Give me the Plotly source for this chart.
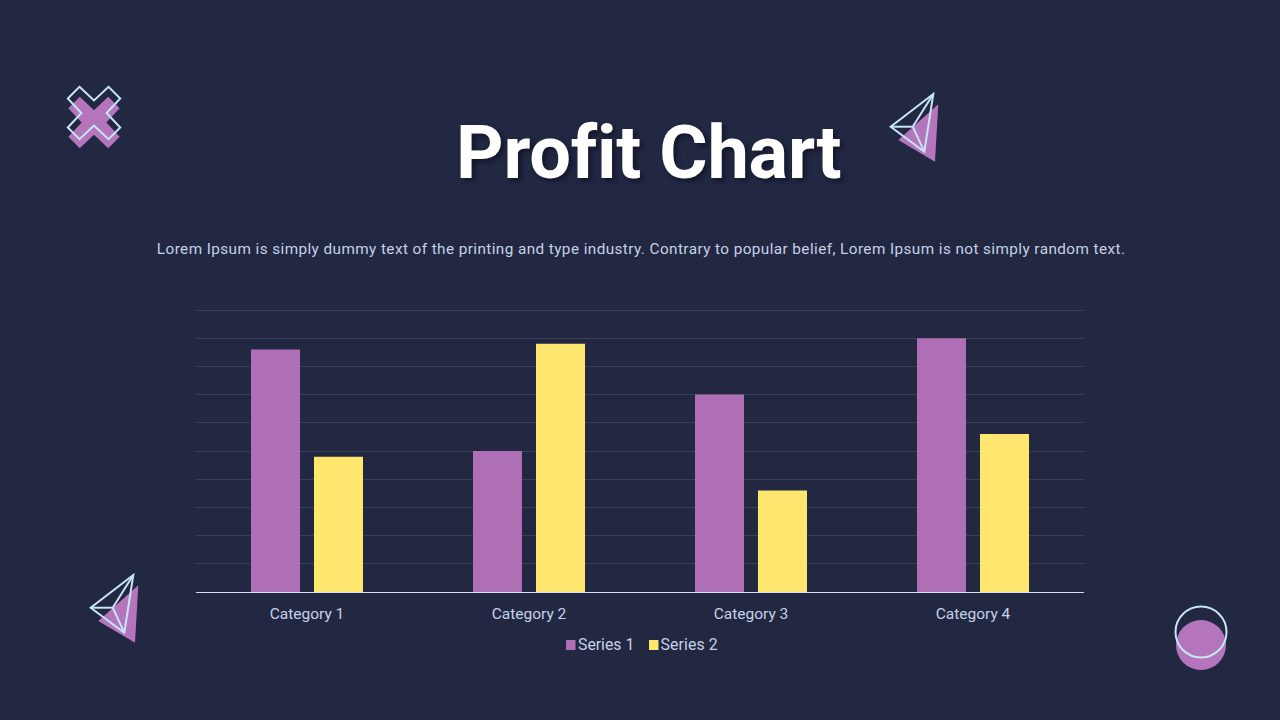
import plotly.graph_objects as go

CATEGORIES = ['Category 1', 'Category 2', 'Category 3', 'Category 4']
SERIES_1 = [4.3, 2.5, 3.5, 4.5]
SERIES_2 = [2.4, 4.4, 1.8, 2.8]

TITLE = 'Profit Chart'
SUBTITLE = ('Lorem Ipsum is simply dummy text of the printing and type industry. '
            'Contrary to popular belief, Lorem Ipsum is not simply random text.')

W, H = 1280, 720
BG = '#222742'
PURPLE = '#AE6FB4'
DECOR_PURPLE = '#B575BD'
YELLOW = '#FFE66E'
WIRE = '#C6E6F6'
TEXT = '#C5D2E6'
GRID = '#3A3F58'
FONT = 'Roboto'

# the page body margin and letter spacing cannot be set from the figure
# (any non zero spacing on the title also switches off the fi ligature)
PAGE_JS = """
document.body.style.margin = '0';
var st = document.createElement('style');
st.textContent = '.annotation[data-index="1"] text {letter-spacing: 0.15px;}'
  + ' .annotation[data-index="2"] text {letter-spacing: -0.25px;}'
  + ' .annotation[data-index="3"] text {letter-spacing: 0.42px;}';
document.head.appendChild(st);
"""


def px(x):
    return x / W


def py(y):
    return 1 - y / H


def path(points, close=True):
    parts = [f'{"M" if i == 0 else "L"}{px(x):.5f},{py(y):.5f}' for i, (x, y) in enumerate(points)]
    return ' '.join(parts) + (' Z' if close else '')


def paper_shape(**kw):
    return dict(xref='paper', yref='paper', layer='above', **kw)


def cross(cx, cy, s):
    pts = [(-15, -27), (0, -13), (15, -27), (27, -15), (13, 0), (27, 15),
           (15, 27), (0, 13), (-15, 27), (-27, 15), (-13, 0), (-27, -15)]
    return [(cx + a * s, cy + b * s) for a, b in pts]


def circle(cx, cy, r, **kw):
    return paper_shape(type='circle', x0=px(cx - r), x1=px(cx + r), y0=py(cy + r), y1=py(cy - r), **kw)


def plane(dx, dy):
    # filled triangle behind, wireframe pyramid on top
    solid = [(938.3, 104.3), (898.3, 140), (935, 161.7)]
    apex, left, bottom, inner = (933.3, 94), (890.7, 126.7), (924.3, 151.7), (912.7, 126.7)
    move = lambda p: (p[0] + dx, p[1] + dy)
    out = [paper_shape(type='path', path=path([move(p) for p in solid]),
                       fillcolor=DECOR_PURPLE, line_width=0)]
    out.append(paper_shape(type='path', path=path([move(apex), move(left), move(bottom)]),
                           line=dict(color=WIRE, width=2)))
    for a, b in [(inner, apex), (inner, left), (inner, bottom)]:
        out.append(paper_shape(type='path', path=path([move(a), move(b)], close=False),
                               line=dict(color=WIRE, width=2)))
    return out


shapes = []
shapes.append(paper_shape(type='path', path=path(cross(94, 122.5, 0.95)), fillcolor=DECOR_PURPLE, line_width=0))
shapes.append(paper_shape(type='path', path=path(cross(94, 113, 0.97)), line=dict(color=WIRE, width=2)))
shapes += plane(0, 0)
shapes += plane(-800, 481)
shapes.append(circle(1201, 645, 25, fillcolor=DECOR_PURPLE, line_width=0))
shapes.append(circle(1201, 632, 25.5, line=dict(color=WIRE, width=2)))

fig = go.Figure()
fig.add_trace(go.Bar(x=CATEGORIES, y=SERIES_1, name='Series 1', marker_color=PURPLE, marker_line_width=0))
fig.add_trace(go.Bar(x=CATEGORIES, y=SERIES_2, name='Series 2', marker_color=YELLOW, marker_line_width=0))

# hand placed legend, the built in one leaves too wide a gap after the swatch
for name, color, x0 in [('Series 1', PURPLE, 566), ('Series 2', YELLOW, 649)]:
    shapes.append(paper_shape(type='rect', x0=px(x0), x1=px(x0 + 9.5), y0=py(650), y1=py(640),
                              fillcolor=color, line_width=0))
    fig.add_annotation(text=name, x=px(x0 + 10), y=py(644), xref='paper', yref='paper',
                       xanchor='left', yanchor='middle', showarrow=False,
                       font=dict(family=FONT, size=15.8, color=TEXT))

fig.add_annotation(text=f'<b>{TITLE}</b>', x=px(648.5), y=py(152), xref='paper', yref='paper',
                   xanchor='center', yanchor='middle', showarrow=False,
                   font=dict(family=FONT, size=74, color='#FFFFFF', shadow='3px 3px 4px #14172b'))
fig.add_annotation(text=SUBTITLE, x=px(640.5), y=py(248.5), xref='paper', yref='paper',
                   xanchor='center', yanchor='middle', showarrow=False,
                   font=dict(family=FONT, size=15.3, color=TEXT))

fig.update_layout(
    width=W, height=H,
    autosize=False,
    margin=dict(l=0, r=0, t=0, b=0),
    paper_bgcolor=BG,
    plot_bgcolor=BG,
    barmode='group',
    bargap=0.4324,
    bargroupgap=0.222,
    showlegend=False,
    shapes=shapes,
    xaxis=dict(domain=[px(196), px(1084)], showgrid=False, ticks='', showline=True,
               linecolor='#D5DEEE', linewidth=1.2, zeroline=False, ticklabelstandoff=7,
               tickfont=dict(family=FONT, size=15.5, color=TEXT)),
    # range runs a little past 5 so the top gridline is not clipped away
    yaxis=dict(domain=[py(592), py(307.75)], range=[0, 5.04], dtick=0.5, gridcolor=GRID, gridwidth=1,
               showticklabels=False, zeroline=False, showline=False, ticks=''),
)

fig.write_html('out.html', config={'displayModeBar': False}, post_script=PAGE_JS)
